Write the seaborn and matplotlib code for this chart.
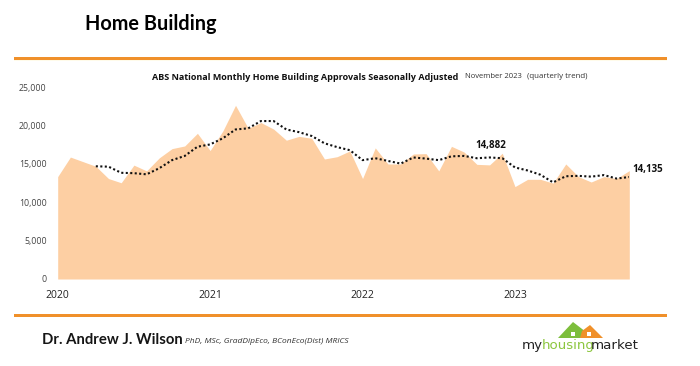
import matplotlib
matplotlib.use("Agg")
import matplotlib.pyplot as plt
import numpy as np
import pandas as pd
import seaborn as sns
from matplotlib.patches import Polygon, Rectangle

months = pd.date_range("2020-01-01", "2023-10-01", freq="MS")
approvals = [13350, 15900, 15300, 14700, 13100, 12550, 14850, 14100, 15800, 17000, 17350, 19000,
             16750, 19300, 22650, 19650, 20400, 19550, 18100, 18600, 18350, 15650, 15950, 16700,
             13100, 17100, 15000, 15000, 16300, 16350, 14100, 17300, 16550, 14950, 14882, 16400,
             12050, 13000, 13000, 12500, 15000, 13350, 12650, 13350, 13100, 14135]
trend = [np.nan, np.nan, np.nan, 14700, 14650, 13850, 13800, 13650, 14450, 15500, 16050, 17250,
         17550, 18350, 19500, 19650, 20600, 20600, 19500, 19150, 18650, 17700, 17200, 16800,
         15500, 15750, 15400, 15050, 15850, 15700, 15500, 16000, 16050, 15750, 15850, 15750,
         14550, 14150, 13600, 12600, 13400, 13450, 13350, 13550, 13100, 13300]
y_ticks = [0, 5000, 10000, 15000, 20000, 25000]
x_years = [2020, 2021, 2022, 2023]

W, H = 700, 366
sns.set_theme(style="white")
plt.rcParams["font.family"] = ["Open Sans", "DejaVu Sans"]
FILL, ORANGE, DARK = "#FDCFA3", "#F0902A", "#111111"

fig = plt.figure(figsize=(7.0, 3.66), dpi=100, facecolor="white")
ax = fig.add_axes([57.7 / W, 1 - 279 / H, (629.3 - 57.7) / W, (279 - 87.3) / H])
df = pd.DataFrame({"month": np.arange(len(months)), "date": months,
                   "approvals": approvals, "trend": trend})

ax.fill_between(df["month"], df["approvals"], 0, color=FILL, lw=0)
sns.lineplot(data=df, x="month", y="trend", ax=ax, color="#111111", lw=1.5,
             linestyle=(0, (1, 1.15)), errorbar=None)
ax.set_xlim(0, len(months) - 1)
ax.set_ylim(0, 25000)
ax.set_xlabel("")
ax.set_ylabel("")
ax.set_xticks([12 * i for i in range(len(x_years))])
ax.set_xticklabels([str(y) for y in x_years], fontsize=7.5, color="#222222")
ax.set_yticks(y_ticks)
ax.set_yticklabels([f"{v:,}" for v in y_ticks], fontsize=6.3, color="#444444")
ax.tick_params(axis="x", length=0, pad=8)
ax.tick_params(axis="y", length=0, pad=8)
ax.patch.set_alpha(0)
sns.despine(ax=ax, left=True, bottom=True, top=True, right=True)

ax.text(32.9, 17450, "14,882", fontsize=7, fontweight="bold", color=DARK, ha="left", va="center",
        clip_on=False)
ax.text(45.25, 14300, "14,135", fontsize=7, fontweight="bold", color=DARK, ha="left", va="center",
        clip_on=False)

def ft(x, y, s, **kw):
    return fig.text(x / W, 1 - y / H, s, **kw)

ft(85, 24, "Home Building", fontsize=14.3, fontweight="bold", color="#000000", va="center",
   family=["Lato", "DejaVu Sans"])
ft(152.5, 77, "ABS National Monthly Home Building Approvals Seasonally Adjusted", fontsize=6.5,
   fontweight="bold", color=DARK, va="center")
ft(465, 77, "November 2023", fontsize=5.5, color="#333333", va="center")
ft(527, 77, "(quarterly trend)", fontsize=5.7, color="#333333", va="center")
ft(42, 340, "Dr. Andrew J. Wilson", fontsize=10.7, fontweight="bold", color="#151515", va="center",
   family=["Lato", "DejaVu Sans"])
ft(185, 341.5, "PhD, MSc, GradDipEco, BConEco(Dist) MRICS", fontsize=6.0, style="italic",
   color="#333333", va="center")

def px_poly(points, **kw):
    fig.add_artist(Polygon([(x / W, 1 - y / H) for x, y in points], closed=True,
                           transform=fig.transFigure, lw=0, **kw))

def px_rect(x, y, w, h, **kw):
    fig.add_artist(Rectangle((x / W, 1 - (y + h) / H), w / W, h / H,
                             transform=fig.transFigure, lw=0, **kw))

px_rect(14, 56.5, 653, 3, color=ORANGE)
px_rect(14, 313.5, 653, 3, color=ORANGE)
px_rect(14, 59.5, 653, 1.2, color="#FFFBEA")

# logo
px_poly([(558, 338), (573, 322), (586, 332), (584, 338)], color="#7DBE3C")
px_poly([(582, 331), (590, 325), (603, 338), (580, 338)], color="#F0902A")
px_rect(571, 332, 4, 4, color="white")
px_rect(587, 332, 4, 4, color="white")
logo_font = dict(fontsize=9.6, va="center", family=["DejaVu Sans"])
ft(522, 345.5, "my", color="#222222", **logo_font)
ft(542, 345.5, "housing", color="#8CC63F", **logo_font)
ft(591, 345.5, "market", color="#222222", **logo_font)
px_rect(522, 350.5, 116, 0.7, color="#444444")

fig.savefig("out.png", dpi=100)
